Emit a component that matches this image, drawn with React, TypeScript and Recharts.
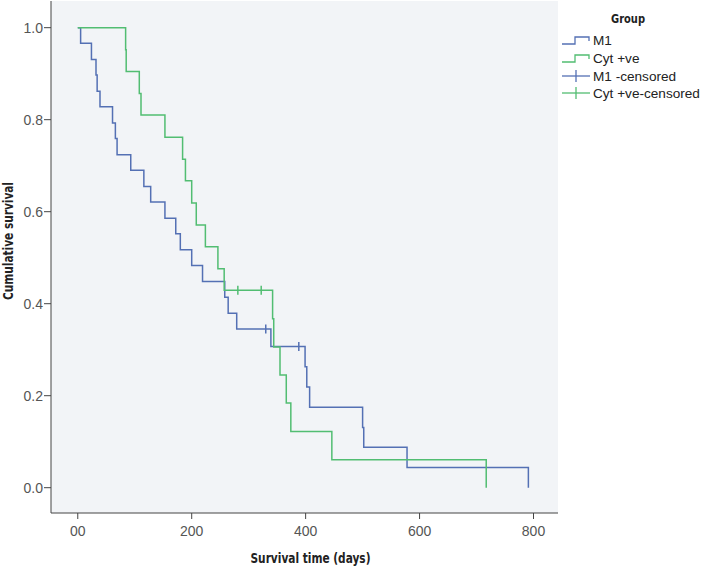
import { ComposedChart, Line, Scatter, XAxis, YAxis, CartesianGrid } from 'recharts';

// Kaplan-Meier steps (days, cumulative survival)
const m1Time = [0, 5, 24, 32, 34, 39, 61, 66, 69, 93, 116, 128, 153, 172, 180, 200, 219, 258, 264, 279, 339, 399, 402, 407, 500, 502, 578, 791];
const m1Surv = [1, 0.966, 0.931, 0.897, 0.862, 0.828, 0.793, 0.759, 0.724, 0.69, 0.655, 0.621, 0.586, 0.552, 0.517, 0.483, 0.448, 0.414, 0.379, 0.345, 0.307, 0.263, 0.219, 0.175, 0.131, 0.088, 0.044, 0];

const cytTime = [0, 84, 85, 108, 111, 153, 184, 189, 200, 208, 224, 246, 257, 342, 344, 355, 366, 374, 446, 717];
const cytSurv = [1, 0.952, 0.905, 0.857, 0.81, 0.762, 0.714, 0.667, 0.619, 0.571, 0.524, 0.476, 0.429, 0.367, 0.306, 0.245, 0.184, 0.122, 0.061, 0];

const m1CensTime = [330, 388];
const m1CensSurv = [0.345, 0.307];
const cytCensTime = [281, 322];
const cytCensSurv = [0.429, 0.429];

const xTicks = [0, 200, 400, 600, 800];
const xTickLabels = ['00', '200', '400', '600', '800'];
const yTicks = [0, 0.2, 0.4, 0.6, 0.8, 1.0];

const groups = ['M1', 'Cyt +ve', 'M1 -censored', 'Cyt +ve-censored'];

const BLUE = '#5470b4';
const GREEN = '#52bd72';
const FRAME = '#444';
const TITLE_FONT = "'Liberation Sans Narrow', 'DejaVu Sans Condensed', 'Roboto Condensed', sans-serif";
const TICK_FONT = "'Liberation Sans', Arial, sans-serif";

const toPoints = (ts: number[], ss: number[]) => ts.map((t, i) => ({ t, s: ss[i] }));

const m1Data = toPoints(m1Time, m1Surv);
const cytData = toPoints(cytTime, cytSurv);
const m1Cens = toPoints(m1CensTime, m1CensSurv);
const cytCens = toPoints(cytCensTime, cytCensSurv);

const censorShape = (color: string) => (props: any) => {
	const { cx, cy } = props;
	return <line x1={cx} x2={cx} y1={cy - 4.5} y2={cy + 4.5} stroke={color} strokeWidth={1.5} />;
};

function LegendBox() {
	const rows = [40, 58, 76, 93];
	const colors = [BLUE, GREEN, BLUE, GREEN];
	return (
		<svg width={142} height={110} style={{ position: 'absolute', left: 560, top: 0 }}>
			<text x={68} y={18} textAnchor="middle" dominantBaseline="central" fontFamily={TITLE_FONT} fontWeight="bold" fontSize={13} textLength={34} lengthAdjust="spacingAndGlyphs" fill="#222">
				Group
			</text>
			{groups.map((g, i) => {
				const y = rows[i];
				const c = colors[i];
				return (
					<g key={g}>
						{i < 2 ? (
							<polyline points={`2,${y + 4} 15,${y + 4} 15,${y - 3} 29,${y - 3} 29,${y + 1}`} fill="none" stroke={c} strokeWidth={1.3} />
						) : (
							<g>
								<line x1={2} x2={30} y1={y} y2={y} stroke={c} strokeWidth={1.3} />
								<line x1={16} x2={16} y1={y - 6} y2={y + 6} stroke={c} strokeWidth={1.3} />
							</g>
						)}
						<text x={33} y={y} dominantBaseline="central" fontFamily={TICK_FONT} fontSize={13.6} fill="#222">
							{g}
						</text>
					</g>
				);
			})}
		</svg>
	);
}

export default function App() {
	return (
		<div style={{ position: 'absolute', left: 0, top: 0, width: 702, height: 567, background: '#fff' }}>
			<ComposedChart width={702} height={567} margin={{ top: 1, right: 144, bottom: 0, left: 0 }}>
				<CartesianGrid xAxisId="b" yAxisId="l" fill="#f2f4f7" horizontal={false} vertical={false} />
				<XAxis
					xAxisId="b"
					type="number"
					dataKey="t"
					domain={[-47, 843]}
					ticks={xTicks}
					allowDataOverflow
					height={54}
					tickSize={6}
					tickMargin={7}
					tickFormatter={(v: number) => xTickLabels[xTicks.indexOf(v)]}
					axisLine={{ stroke: FRAME }}
					tickLine={{ stroke: FRAME }}
					tick={{ fill: '#555', fontSize: 14, fontFamily: TICK_FONT }}
					label={{
						content: (p: any) => (
							<text
								x={p.viewBox.x + p.viewBox.width / 2 + 6}
								y={p.viewBox.y + 45}
								textAnchor="middle"
								dominantBaseline="central"
								fontFamily={TITLE_FONT}
								fontWeight="bold"
								fontSize={13.5}
								textLength={120}
								lengthAdjust="spacingAndGlyphs"
								fill="#222"
							>
								Survival time (days)
							</text>
						),
					}}
				/>
				<XAxis xAxisId="top" orientation="top" type="number" domain={[-47, 843]} height={0} tick={false} tickLine={false} axisLine={{ stroke: FRAME }} />
				<YAxis
					yAxisId="l"
					type="number"
					dataKey="s"
					domain={[-0.055, 1.058]}
					ticks={yTicks}
					allowDataOverflow
					width={51}
					tickSize={7}
					tickMargin={1}
					tickFormatter={(v: number) => v.toFixed(1)}
					axisLine={{ stroke: FRAME }}
					tickLine={{ stroke: FRAME }}
					tick={{ fill: '#555', fontSize: 14, fontFamily: TICK_FONT }}
					label={{
						content: (p: any) => {
							const cx = 8;
							const cy = p.viewBox.y + p.viewBox.height / 2 - 16;
							return (
								<text
									x={cx}
									y={cy}
									transform={`rotate(-90 ${cx} ${cy})`}
									textAnchor="middle"
									dominantBaseline="central"
									fontFamily={TITLE_FONT}
									fontWeight="bold"
									fontSize={13.5}
									textLength={118}
									lengthAdjust="spacingAndGlyphs"
									fill="#222"
								>
									Cumulative survival
								</text>
							);
						},
					}}
				/>
				<YAxis yAxisId="r" orientation="right" type="number" domain={[-0.055, 1.058]} width={0} tick={false} tickLine={false} axisLine={{ stroke: FRAME }} />
				<Line xAxisId="b" yAxisId="l" data={m1Data} dataKey="s" type="stepAfter" stroke={BLUE} strokeWidth={1.5} dot={false} isAnimationActive={false} />
				<Line xAxisId="b" yAxisId="l" data={cytData} dataKey="s" type="stepAfter" stroke={GREEN} strokeWidth={1.5} dot={false} isAnimationActive={false} />
				<Scatter xAxisId="b" yAxisId="l" data={m1Cens} dataKey="s" shape={censorShape(BLUE)} isAnimationActive={false} />
				<Scatter xAxisId="b" yAxisId="l" data={cytCens} dataKey="s" shape={censorShape(GREEN)} isAnimationActive={false} />
			</ComposedChart>
			<LegendBox />
		</div>
	);
}
